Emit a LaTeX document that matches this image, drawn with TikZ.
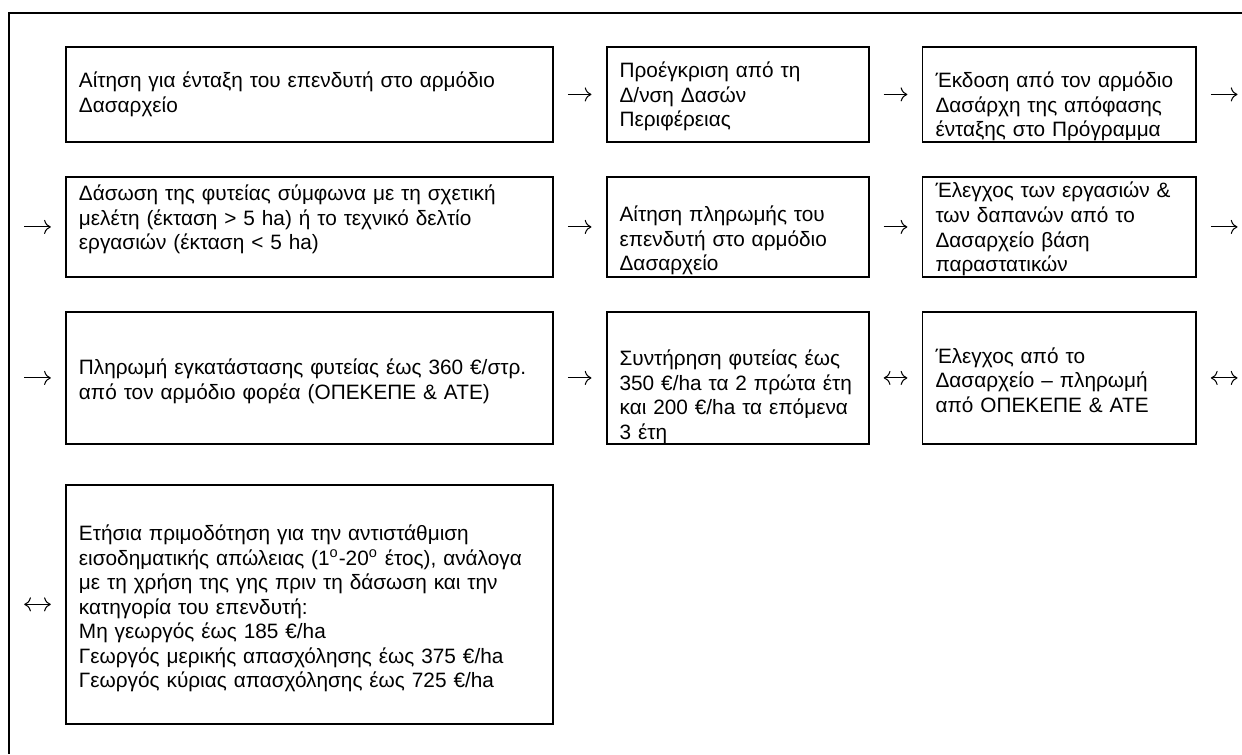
\documentclass[tikz,border=0pt]{standalone}
\usepackage{fontspec}
\setmainfont{Liberation Sans}
\usepackage{tikz}
\usetikzlibrary{arrows.meta, positioning}

\begin{document}
\begin{tikzpicture}[
    box/.style={draw, line width=0.9pt, align=left, inner xsep=0.22cm, inner ysep=0pt, font=\fontsize{10}{11.8}\selectfont},
    colone/.style={box, text width=7.79cm},
    coltwo/.style={box, text width=3.99cm},
    colthree/.style={box, text width=4.18cm},
    flow/.style={-{To[scale=1.2]}, line width=0.5pt, shorten <=0.24cm, shorten >=0.24cm},
    both/.style={flow, {To[scale=1.2]}-{To[scale=1.2]}}
]
    \useasboundingbox (0,0) rectangle (21,-12.749);

    % --- Frame ---
    \draw[line width=1pt] (21,-0.215) -- (0.152,-0.215) -- (0.152,-12.749);

    % --- Row 1 ---
    \node[colone, minimum height=1.606cm, text height=19.7pt, text depth=26pt, anchor=north west] (aitisi) at (1.099,-0.778) {Αίτηση για ένταξη του επενδυτή στο αρμόδιο\\Δασαρχείο};
    \node[coltwo, minimum height=1.606cm, text height=14.9pt, text depth=30.8pt, right=0.88cm of aitisi] (proegkrisi) {Προέγκριση από τη\\Δ/νση Δασών\\Περιφέρειας};
    \node[colthree, minimum height=1.606cm, text height=19.5pt, text depth=26.2pt, right=0.88cm of proegkrisi] (ekdosi) {Έκδοση από τον αρμόδιο\\Δασάρχη της απόφασης\\ένταξης στο Πρόγραμμα};

    % --- Row 2 ---
    \node[colone, minimum height=1.691cm, text height=11.5pt, text depth=36.6pt, below=0.56cm of aitisi] (dasosi) {Δάσωση της φυτείας σύμφωνα με τη σχετική\\μελέτη (έκταση > 5 ha) ή το τεχνικό δελτίο\\εργασιών (έκταση < 5 ha)};
    \node[coltwo, minimum height=1.691cm, text height=21.6pt, text depth=26.5pt, below=0.56cm of proegkrisi] (aitplir) {Αίτηση πληρωμής του\\επενδυτή στο αρμόδιο\\Δασαρχείο};
    \node[colthree, minimum height=1.691cm, text height=10.1pt, text depth=38pt, below=0.56cm of ekdosi] (elegxos) {Έλεγχος των εργασιών \&\\των δαπανών από το\\Δασαρχείο βάση\\παραστατικών};

    % --- Row 3 ---
    \node[colone, minimum height=2.232cm, text height=30.3pt, text depth=33.2pt, below=0.56cm of dasosi] (pliromi) {Πληρωμή εγκατάστασης φυτείας έως 360 €/στρ.\\από τον αρμόδιο φορέα (ΟΠΕΚΕΠΕ \& ΑΤΕ)};
    \node[coltwo, minimum height=2.232cm, text height=25.8pt, text depth=37.7pt, below=0.56cm of aitplir] (syntirisi) {Συντήρηση φυτείας έως\\350 €/ha τα 2 πρώτα έτη\\και 200 €/ha τα επόμενα\\3 έτη};
    \node[colthree, minimum height=2.232cm, text height=24.6pt, text depth=38.9pt, below=0.56cm of elegxos] (elegxdas) {Έλεγχος από το\\Δασαρχείο – πληρωμή\\από ΟΠΕΚΕΠΕ \& ΑΤΕ};

    % --- Row 4 ---
    \node[colone, minimum height=4.041cm, text height=26.9pt, text depth=88.1pt, below=0.66cm of pliromi] (etisia) {Ετήσια πριμοδότηση για την αντιστάθμιση\\εισοδηματικής απώλειας (1\textsuperscript{o}-20\textsuperscript{o} έτος), ανάλογα\\με τη χρήση της γης πριν τη δάσωση και την\\κατηγορία του επενδυτή:\\Μη γεωργός έως 185 €/ha\\Γεωργός μερικής απασχόλησης έως 375 €/ha\\Γεωργός κύριας απασχόλησης έως 725 €/ha};

    % --- Free ends at the row edges ---
    \coordinate (ekdosi-out) at ([xshift=0.69cm]ekdosi.east);
    \coordinate (elegxos-out) at ([xshift=0.69cm]elegxos.east);
    \coordinate (elegxdas-out) at ([xshift=0.69cm]elegxdas.east);
    \coordinate (dasosi-in) at ([xshift=-0.69cm]dasosi.west);
    \coordinate (pliromi-in) at ([xshift=-0.69cm]pliromi.west);
    \coordinate (etisia-in) at ([xshift=-0.69cm]etisia.west);

    % --- Arrows ---
    \draw[flow] (aitisi) -- (proegkrisi);
    \draw[flow] (proegkrisi) -- (ekdosi);
    \draw[flow, shorten >=0pt] (ekdosi) -- (ekdosi-out);
    \draw[flow, shorten <=0pt] (dasosi-in) -- (dasosi);
    \draw[flow] (dasosi) -- (aitplir);
    \draw[flow] (aitplir) -- (elegxos);
    \draw[flow, shorten >=0pt] (elegxos) -- (elegxos-out);
    \draw[flow, shorten <=0pt] (pliromi-in) -- (pliromi);
    \draw[flow] (pliromi) -- (syntirisi);
    \draw[both] (syntirisi) -- (elegxdas);
    \draw[both, shorten >=0pt] (elegxdas) -- (elegxdas-out);
    \draw[both, shorten <=0pt] (etisia-in) -- (etisia);
\end{tikzpicture}
\end{document}
